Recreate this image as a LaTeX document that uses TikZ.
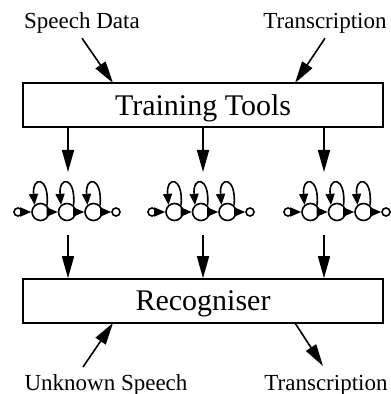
\documentclass[tikz,border=0pt]{standalone}
\usepackage{fontspec}
\setmainfont{Liberation Serif}
\usetikzlibrary{arrows.meta}

\tikzset{
  tool/.style={draw,line width=0.8pt,minimum width=180pt,minimum height=22pt,inner sep=0pt,text depth=0pt,font=\fontsize{15}{18}\selectfont},
  lbl/.style={anchor=base,inner sep=0pt,font=\fontsize{11.5}{14}\selectfont},
  bigarr/.style={line width=0.8pt,-{Triangle[length=11pt,width=6pt]}},
  state/.style={draw,circle,line width=0.8pt,minimum size=8.5pt,inner sep=0pt},
  term/.style={draw,circle,line width=0.8pt,minimum size=4pt,inner sep=0pt},
  hmmarr/.style={line width=0.8pt,-{Triangle[length=5.5pt,width=4.5pt]}}
}

\begin{document}
\begin{tikzpicture}[x=0.5pt,y=-0.5pt]
\useasboundingbox (0,0) rectangle (390,394);
% boxes and labels
\node[tool] (train) at (203,105) {Training Tools};
\node[tool] (recog) at (203,301) {Recogniser};
\node[lbl] (data) at (82,29) {Speech Data};
\node[lbl] (trans) at (325,29) {Transcription};
\node[lbl] (unk) at (106,390) {Unknown Speech};
\node[lbl] (out) at (326,390) {Transcription};
% ends of the slanted arrows
\coordinate (t1) at (113,83);
\coordinate (t2) at (295,83);
\coordinate (u0) at (83,367);
\coordinate (u1) at (113,323);
\coordinate (o1) at (295,323);
\coordinate (o2) at (323,366);
\draw[bigarr] ([yshift=-2pt]data.south) -- (t1);
\draw[bigarr] ([yshift=-2pt]trans.south) -- (t2);
\draw[bigarr] (u0) -- (u1);
\draw[bigarr] (o1) -- (o2);
% models
\foreach \i/\c/\a in {1/67/68,2/201/203,3/337/324}{
  \node[term] (h\i-in) at (\c-49,212) {};
  \node[state] (h\i-1) at (\c-26.5,212) {};
  \node[state] (h\i-2) at (\c,212) {};
  \node[state] (h\i-3) at (\c+26.5,212) {};
  \node[term] (h\i-out) at (\c+49,212) {};
  \draw[hmmarr] (h\i-in) -- (h\i-1);
  \draw[hmmarr] (h\i-1) -- (h\i-2);
  \draw[hmmarr] (h\i-2) -- (h\i-3);
  \draw[hmmarr] (h\i-3) -- (h\i-out);
  \foreach \j in {1,2,3}
    \draw[hmmarr] (h\i-\j.45) to[out=85,in=95,looseness=6] (h\i-\j.130);
  \coordinate (a\i) at (\a,172);
  \coordinate (b\i) at (\a,235);
  \draw[bigarr] (train.south -| a\i) -- (a\i);
  \draw[bigarr] (b\i) -- (b\i |- recog.north);
}
\end{tikzpicture}
\end{document}
